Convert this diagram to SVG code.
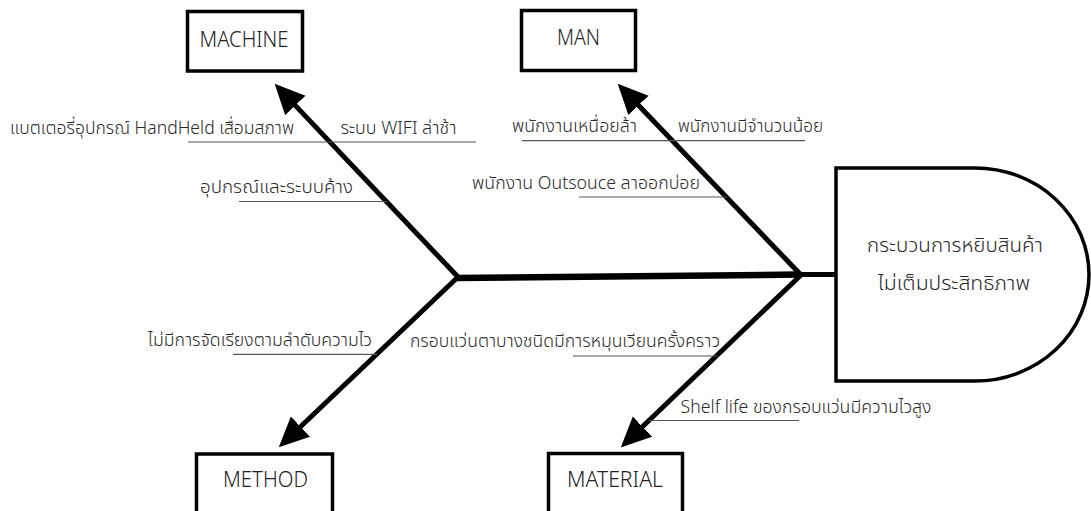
<svg xmlns="http://www.w3.org/2000/svg" width="1091" height="511" viewBox="0 0 1091 511">
<style>
.box{fill:#fff;stroke:#000;stroke-width:3.5}
.bt{font-family:"Noto Sans Thai","Noto Sans","DejaVu Sans",sans-serif;font-size:22px;fill:#222;text-anchor:middle;font-weight:300}
.lt{font-family:"Noto Sans Thai","Noto Sans","DejaVu Sans",sans-serif;font-size:18px;fill:#2a2a2a;font-weight:300}
.ht{font-family:"Noto Sans Thai","Noto Sans","DejaVu Sans",sans-serif;font-size:20px;fill:#2a2a2a;text-anchor:middle;font-weight:300}
.bone{fill:none;stroke:#000;stroke-width:5;stroke-linejoin:miter;stroke-miterlimit:10}
.ul{stroke:#555;stroke-width:1.2;fill:none}
</style>
<defs>
<marker id="ah" markerUnits="userSpaceOnUse" markerWidth="32" markerHeight="30" refX="16" refY="14" orient="auto-start-reverse">
<path d="M0,0 L30,14 L0,28 Z" fill="#000"/>
</marker>
</defs>
<rect width="1091" height="511" fill="#fff"/>
<g id="connectors">
<path class="bone" d="M284.3,93.9 L458,277 L288.9,437.7" marker-start="url(#ah)" marker-end="url(#ah)"/>
<path class="bone" d="M627.4,93.8 L801,275 L630.9,437.7" marker-start="url(#ah)" marker-end="url(#ah)"/>
<path d="M456,278 L801,274.5" stroke="#000" stroke-width="6.5" fill="none"/>
<path d="M800,274.5 L837,274.5" stroke="#000" stroke-width="5" fill="none"/>
<line class="ul" x1="188" y1="142" x2="329" y2="142"/>
<line class="ul" x1="329" y1="142" x2="476" y2="142"/>
<line class="ul" x1="239" y1="201.5" x2="387" y2="201.5"/>
<line class="ul" x1="522" y1="140.7" x2="673" y2="140.7"/>
<line class="ul" x1="673" y1="140.7" x2="805" y2="140.7"/>
<line class="ul" x1="579" y1="197" x2="727" y2="197"/>
<line class="ul" x1="233" y1="354.3" x2="377" y2="354.3"/>
<line class="ul" x1="573" y1="356" x2="718" y2="356"/>
<line class="ul" x1="649" y1="420.5" x2="799" y2="420.5"/>
</g>
<g id="machine"><rect class="box" x="187.5" y="11.5" width="115" height="59.5"/><text class="bt" x="244" y="47" textLength="89" lengthAdjust="spacingAndGlyphs">MACHINE</text></g>
<g id="man"><rect class="box" x="521.5" y="10.5" width="114" height="60"/><text class="bt" x="578.5" y="45" textLength="43" lengthAdjust="spacingAndGlyphs">MAN</text></g>
<g id="method"><rect class="box" x="196.5" y="454" width="136" height="70"/><text class="bt" x="265.5" y="487" textLength="85" lengthAdjust="spacingAndGlyphs">METHOD</text></g>
<g id="material"><rect class="box" x="548.5" y="453.5" width="134" height="70"/><text class="bt" x="615" y="487" textLength="96" lengthAdjust="spacingAndGlyphs">MATERIAL</text></g>
<g id="effect"><path class="box" d="M836,168 H975 A114,106.5 0 0 1 975,381 H836 Z"/>
<text class="ht" x="955" y="251.5" textLength="176" lengthAdjust="spacingAndGlyphs">กระบวนการหยิบสินค้า</text>
<text class="ht" x="954" y="290" textLength="152" lengthAdjust="spacingAndGlyphs">ไม่เต็มประสิทธิภาพ</text></g>
<g id="causes">
<text class="lt" x="10" y="134" textLength="284" lengthAdjust="spacingAndGlyphs">แบตเตอรี่อุปกรณ์ HandHeld เสื่อมสภาพ</text>
<text class="lt" x="340.5" y="134" textLength="116" lengthAdjust="spacingAndGlyphs">ระบบ WIFI ล่าช้า</text>
<text class="lt" x="200" y="193" textLength="153" lengthAdjust="spacingAndGlyphs">อุปกรณ์และระบบค้าง</text>
<text class="lt" x="512" y="132" textLength="125" lengthAdjust="spacingAndGlyphs">พนักงานเหนื่อยล้า</text>
<text class="lt" x="678" y="132" textLength="145" lengthAdjust="spacingAndGlyphs">พนักงานมีจำนวนน้อย</text>
<text class="lt" x="472" y="188.5" textLength="228" lengthAdjust="spacingAndGlyphs">พนักงาน Outsouce ลาออกบ่อย</text>
<text class="lt" x="148" y="346" textLength="224" lengthAdjust="spacingAndGlyphs">ไม่มีการจัดเรียงตามลำดับความไว</text>
<text class="lt" x="410" y="347" textLength="310" lengthAdjust="spacingAndGlyphs">กรอบแว่นตาบางชนิดมีการหมุนเวียนครั้งคราว</text>
<text class="lt" x="680.5" y="413" textLength="251" lengthAdjust="spacingAndGlyphs">Shelf life ของกรอบแว่นมีความไวสูง</text>
</g>
</svg>
